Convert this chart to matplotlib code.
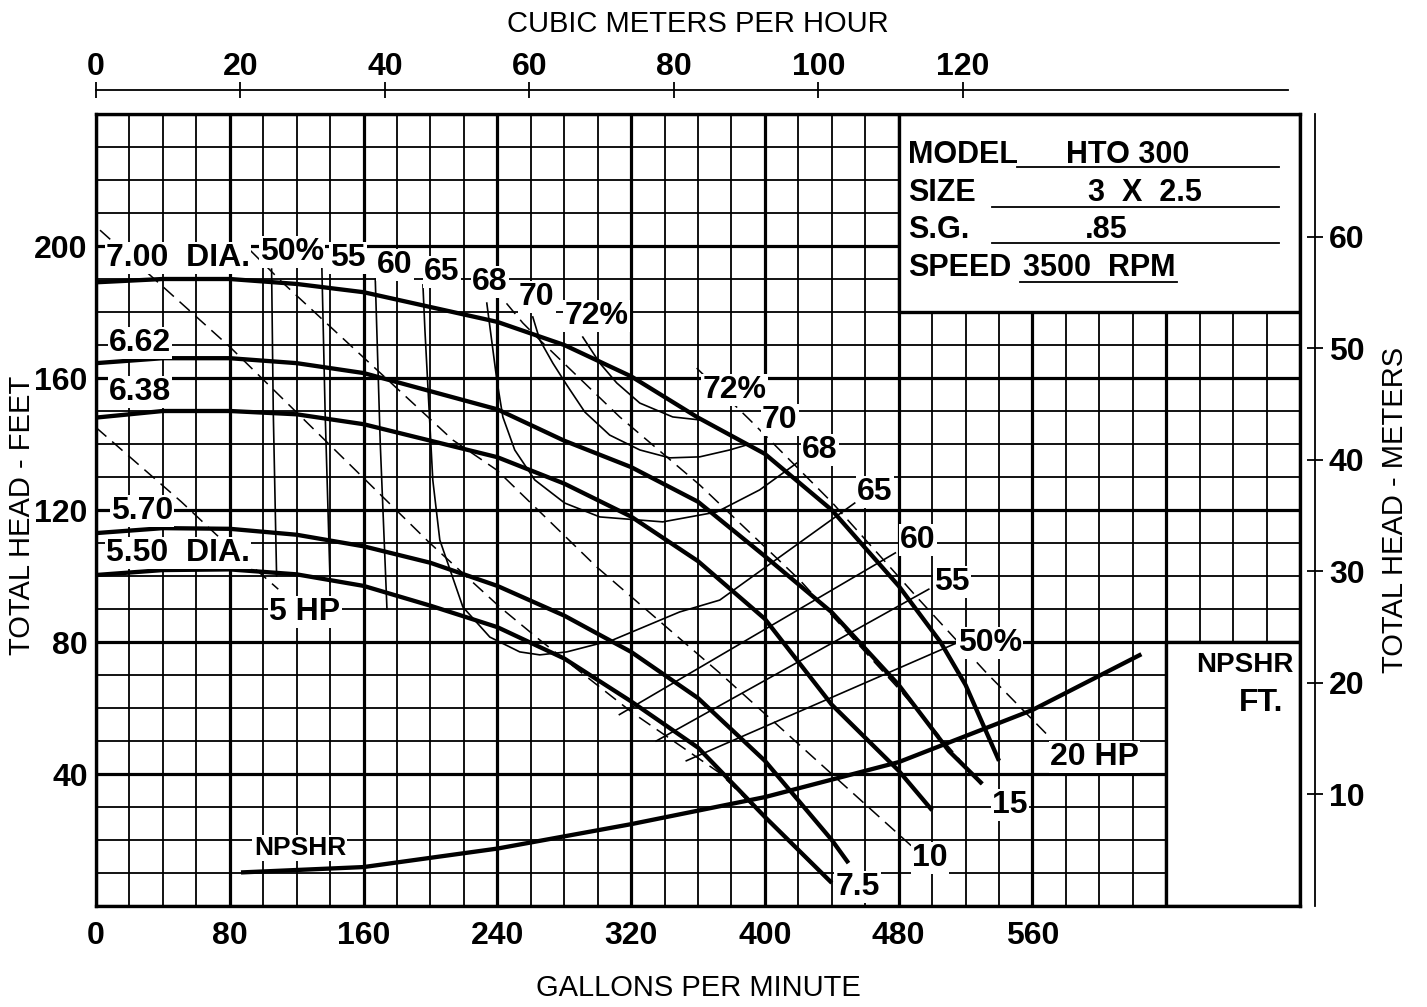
import matplotlib
matplotlib.use("Agg")
import matplotlib.pyplot as plt
from matplotlib.patches import Rectangle
from matplotlib.ticker import FixedLocator, MultipleLocator, FuncFormatter

plt.rcParams["font.family"] = ["Liberation Sans Narrow", "Liberation Sans", "DejaVu Sans"]

# ---- data (GPM vs total head in feet) ----
gpm_ticks = [0, 80, 160, 240, 320, 400, 480, 560]
ft_ticks = [40, 80, 120, 160, 200]
m3h_ticks = [0, 20, 40, 60, 80, 100, 120]
meter_ticks = [10, 20, 30, 40, 50, 60]
npshr_ticks = [10, 20, 30]

dia_names = ["7.00", "6.62", "6.38", "5.70", "5.50"]
q_700 = [0, 40, 80, 120, 160, 200, 240, 280, 320, 360, 400, 440, 480, 505, 520, 540]
h_700 = [189, 190, 190, 188.5, 186, 181.5, 177, 170, 160.5, 148, 137, 120, 97, 80, 67, 44]
q_662 = [0, 40, 80, 120, 160, 200, 240, 280, 320, 360, 400, 440, 480, 510, 530]
h_662 = [164.5, 166, 166, 164.5, 161.5, 156, 150.5, 141, 133, 122.5, 106, 89, 67, 47, 37]
q_638 = [0, 40, 80, 120, 160, 200, 240, 280, 320, 360, 400, 440, 480, 500]
h_638 = [148, 150, 150, 149, 146, 141, 136, 128, 118, 104.5, 87, 61, 41, 29]
q_570 = [0, 40, 80, 120, 160, 200, 240, 280, 320, 360, 400, 440, 450]
h_570 = [113, 114.5, 114.3, 112.5, 109, 104, 97, 88, 77, 63, 44, 20, 13]
q_550 = [0, 40, 80, 120, 160, 200, 240, 280, 320, 360, 400, 440]
h_550 = [100.3, 101.8, 102, 100.5, 97, 91, 84.5, 75, 62, 48, 27, 7]

# NPSHR in feet of NPSHR (its own scale, half of the head scale)
q_npshr = [88, 160, 240, 320, 400, 480, 560, 624]
npshr = [5.1, 5.9, 8.7, 12.4, 16.5, 21.8, 29.7, 38]

# horsepower lines
hp_names = ["5 HP", "7.5", "10", "15", "20 HP"]
q_hp5 = [0, 51, 72, 109]
h_hp5 = [145, 122.5, 112.5, 96]
q_hp75 = [2.4, 80.1, 199.6, 241.5, 265.4, 321, 373, 438.7]
h_hp75 = [204.8, 169.4, 110, 90.6, 80.6, 58.5, 40.3, 7.3]
q_hp10 = [92, 111.8, 159.6, 213.4, 239.7, 299.5, 373, 488.3]
h_hp10 = [198.8, 188.8, 166.4, 141.2, 132.1, 102.7, 70.6, 17.9]
q_hp15 = [237.3, 255.2, 265.4, 313.2, 361, 420.8, 480.6, 531.4]
h_hp15 = [187.6, 176.7, 171.5, 148.2, 127.6, 98.8, 65.5, 35.5]
q_hp20 = [359.2, 391, 440.5, 492.5, 532.6, 570.2]
h_hp20 = [163, 147.3, 122.1, 92.7, 70.6, 51.2]

# efficiency contours (open ones in two branches)
q_e50a, h_e50a = [105, 106, 108], [193, 150, 100]
q_e50b, h_e50b = [353, 516], [44, 80]
q_e55a, h_e55a = [135, 137, 140], [195, 150, 98]
q_e55b, h_e55b = [335, 498], [50, 96]
q_e60a, h_e60a = [167, 170, 174], [190, 140, 90]
q_e60b, h_e60b = [313, 478], [58, 107]
q_e65 = [195.5, 196.7, 201.4, 205.6, 219.4, 235.5, 253.4, 265.4, 281.5, 309, 349, 373, 453.7]
h_e65 = [188.2, 174.5, 129.1, 110.9, 90.6, 81.5, 77, 76.1, 77, 80.6, 89.1, 92.7, 122.1]
q_e68 = [233.7, 239.7, 243.3, 250.4, 262.4, 280.3, 301.3, 338.9, 371.2, 396.9, 419]
h_e68 = [182.7, 159.4, 148.2, 138.2, 129.1, 122.1, 117.9, 116.4, 119.4, 126.1, 134.2]
q_e70 = [261.2, 265.4, 273.2, 281.5, 292.3, 307.2, 325.2, 343.1, 361, 379, 391]
h_e70 = [178.5, 171.5, 164.5, 157.9, 149.7, 142.7, 138.2, 135.8, 136.1, 138.2, 140]
q_e72 = [291.1, 301.3, 311.4, 325.2, 344.9, 361]
h_e72 = [172.4, 164.5, 158.5, 152.4, 148.2, 147.3]

fig = plt.figure(figsize=(14.27, 10.07), dpi=100)
ax = fig.add_axes([96 / 1427, 1 - 906 / 1007, 1204 / 1427, 792 / 1007])
ax.set_xlim(0, 720)
ax.set_ylim(0, 240)

# grid
ax.xaxis.set_major_locator(MultipleLocator(80))
ax.xaxis.set_minor_locator(MultipleLocator(20))
ax.yaxis.set_major_locator(MultipleLocator(40))
ax.yaxis.set_minor_locator(MultipleLocator(10))
ax.set_axisbelow(True)
ax.grid(which="major", color="black", lw=2.3)
ax.grid(which="minor", color="black", lw=1.3)
ax.tick_params(which="both", length=0)
ax.xaxis.set_major_formatter(FuncFormatter(lambda v, p: f"{v:.0f}" if v in gpm_ticks else ""))
ax.yaxis.set_major_formatter(FuncFormatter(lambda v, p: f"{v:.0f}" if v in ft_ticks else ""))
for lab in ax.get_xticklabels() + ax.get_yticklabels():
    lab.set_fontsize(23)
    lab.set_fontweight("bold")
ax.tick_params(axis="x", pad=11)
ax.tick_params(axis="y", pad=6)
for s in ax.spines.values():
    s.set_linewidth(2.4)

# boxes without grid
ax.add_patch(Rectangle((480, 180), 240, 60, fc="white", ec="black", lw=2.4, zorder=1.5))
ax.add_patch(Rectangle((640, 0), 80, 80, fc="white", ec="black", lw=2.4, zorder=1.5))

# head curves
for q, h in [(q_700, h_700), (q_662, h_662), (q_638, h_638), (q_570, h_570), (q_550, h_550)]:
    ax.plot(q, h, color="black", lw=3.1, zorder=4, solid_capstyle="butt", solid_joinstyle="round")

# NPSHR curve on the head scale (x2)
ax.plot(q_npshr, [v * 2 for v in npshr], color="black", lw=3.1, zorder=4)

# horsepower lines
for q, h in [(q_hp5, h_hp5), (q_hp75, h_hp75), (q_hp10, h_hp10), (q_hp15, h_hp15), (q_hp20, h_hp20)]:
    ax.plot(q, h, color="black", lw=1.1, ls=(0, (9, 5)), zorder=3)

# efficiency contours
for q, h in [(q_e50a, h_e50a), (q_e50b, h_e50b), (q_e55a, h_e55a), (q_e55b, h_e55b),
             (q_e60a, h_e60a), (q_e60b, h_e60b), (q_e65, h_e65), (q_e68, h_e68),
             (q_e70, h_e70), (q_e72, h_e72)]:
    ax.plot(q, h, color="black", lw=1.2, zorder=3)

box = dict(fc="white", ec="none", pad=1.0)


def label(x, y, s, size=23, **kw):
    ax.text(x, y, s, fontsize=size, fontweight="bold", ha="center", va="center",
            bbox=box, zorder=6, **kw)


def px(x, y):
    return (x - 96) / 1.673, (906 - y) / 3.3


# diameter labels
label(*px(178, 258), "7.00  DIA.")
label(*px(140, 343), "6.62")
label(*px(140, 392), "6.38")
label(*px(142, 511), "5.70")
label(*px(178, 553), "5.50  DIA.")

# efficiency labels
eff_top = ["50%", "55", "60", "65", "68", "70", "72%"]
eff_top_xy = [(292, 252), (348, 258), (395, 265), (442, 272), (490, 282), (537, 297), (597, 316)]
eff_right = ["72%", "70", "68", "65", "60", "55", "50%"]
eff_right_xy = [(735, 390), (780, 420), (820, 450), (875, 492), (918, 540), (952, 582), (990, 643)]
for s, xy in zip(eff_top, eff_top_xy):
    label(*px(*xy), s)
for s, xy in zip(eff_right, eff_right_xy):
    label(*px(*xy), s)

hp_xy = [(305, 612), (858, 887), (930, 858), (1010, 805), (1095, 757)]
for s, xy in zip(hp_names, hp_xy):
    label(*px(*xy), s)

label(*px(300, 848), "NPSHR", size=19)
ax.text(*px(1245, 665), "NPSHR", fontsize=20, fontweight="bold", ha="center", va="center", zorder=6)
ax.text(*px(1262, 703), "FT.", fontsize=23, fontweight="bold", ha="center", va="center", zorder=6)

# info box
info_lab = ["MODEL", "SIZE", "S.G.", "SPEED"]
info_val = ["HTO 300", "3  X  2.5", ".85", "3500  RPM"]
info_y = [155, 193, 230, 268]
info_vx = [1128, 1145, 1107, 1100]
info_line = [(1017, 1280, 167), (992, 1280, 207), (992, 1280, 243), (1020, 1178, 282)]
for s, v, y, vx, (x0, x1, ly) in zip(info_lab, info_val, info_y, info_vx, info_line):
    ax.text(*px(908, y), s, fontsize=22, fontweight="heavy", ha="left", va="center", zorder=6)
    ax.text(*px(vx, y), v, fontsize=22, fontweight="bold", ha="center", va="center", zorder=6)
    a, b = px(x0, ly), px(x1, ly)
    ax.plot([a[0], b[0]], [a[1], b[1]], color="black", lw=1.3, zorder=6)

ax.set_xlabel("GALLONS PER MINUTE", fontsize=21, labelpad=16)
fig.text(22 / 1427, 1 - 515 / 1007, "TOTAL HEAD - FEET", fontsize=21, rotation=90,
         ha="center", va="center")

# top axis: cubic meters per hour
top = ax.secondary_xaxis(1 + 24 / 792, functions=(lambda g: g / 4.32, lambda m: m * 4.32))
top.xaxis.set_major_locator(FixedLocator(m3h_ticks))
top.tick_params(direction="inout", length=12, width=1.3, labelsize=23, pad=0)
for lab in top.get_xticklabels():
    lab.set_fontweight("bold")
top.spines["top"].set_linewidth(1.3)
top.spines["top"].set_bounds(0, 165)
top.set_xlabel("CUBIC METERS PER HOUR", fontsize=21, labelpad=14)

# right axis: meters
right = ax.secondary_yaxis(1 + 15 / 1204, functions=(lambda f: f / 3.38, lambda m: m * 3.38))
right.yaxis.set_major_locator(FixedLocator(meter_ticks))
right.tick_params(direction="inout", length=12, width=1.3, labelsize=23, pad=4)
for lab in right.get_yticklabels():
    lab.set_fontweight("bold")
right.spines["right"].set_linewidth(1.3)
right.set_ylabel("TOTAL HEAD - METERS", fontsize=21, labelpad=12)

# NPSHR scale inside the plot
nps = ax.secondary_yaxis(640 / 720, functions=(lambda f: f / 2, lambda n: n * 2))
nps.yaxis.set_major_locator(FixedLocator(npshr_ticks))
nps.tick_params(direction="out", length=8, width=2, labelsize=23, pad=3)
for lab in nps.get_yticklabels():
    lab.set_fontweight("bold")
nps.spines["right"].set_visible(False)

fig.savefig("out.png", dpi=100)
